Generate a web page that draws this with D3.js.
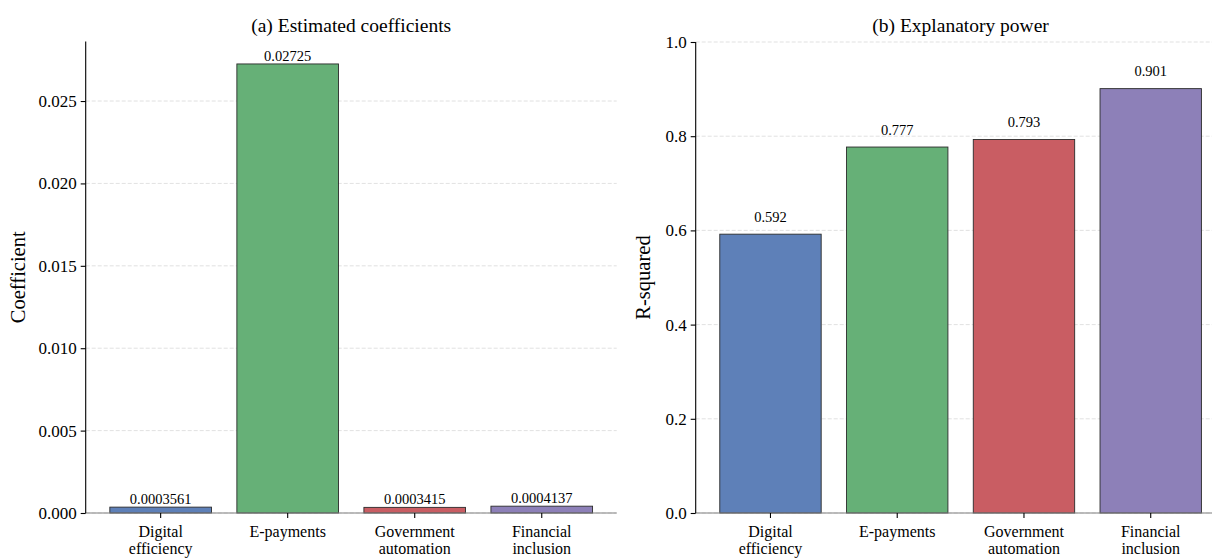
<!DOCTYPE html>
<html>
<head>
<meta charset="utf-8">
<script src="https://cdn.jsdelivr.net/npm/d3@7"></script>
<style>
  html, body { margin: 0; padding: 0; background: #fff; }
  svg { display: block; }
  text { font-family: "Liberation Serif", "DejaVu Serif", serif; fill: #000; }
</style>
</head>
<body>
<svg id="chart" width="1212" height="558"></svg>
<script>
// Regression results by channel
const categories = ["Digital\nefficiency", "E-payments", "Government\nautomation", "Financial\ninclusion"];
const coefficients = [0.0003561, 0.02725, 0.0003415, 0.0004137];
const coefLabels = ["0.0003561", "0.02725", "0.0003415", "0.0004137"];
const rSquared = [0.592, 0.777, 0.793, 0.901];
const rSquaredLabels = ["0.592", "0.777", "0.793", "0.901"];
const coefTicks = [0, 0.005, 0.010, 0.015, 0.020, 0.025];
const r2Ticks = [0, 0.2, 0.4, 0.6, 0.8, 1.0];
const barColors = ["#5e80b8", "#66b077", "#c95d63", "#8d80b8"];

const svg = d3.select("#chart");

function panel(opts) {
  const { x0, x1, y0, y1, values, labels, ticks, tickFmt, yMax, title, yLabel, yLabelX, labelOffset } = opts;
  const g = svg.append("g");

  // categorical positions 0..n-1 with bar width 0.8 and a 5% side margin
  const n = categories.length;
  const x = d3.scaleLinear().domain([-0.59, n - 1 + 0.59]).range([x0, x1]);
  const y = d3.scaleLinear().domain([0, yMax]).range([y0, y1]);
  const bw = 0.8;

  // horizontal grid
  g.append("g").selectAll("line").data(ticks).join("line")
    .attr("x1", x0).attr("x2", x1)
    .attr("y1", d => y(d)).attr("y2", d => y(d))
    .attr("stroke", "#d9d9d9").attr("stroke-width", 0.8)
    .attr("stroke-dasharray", "4,2");

  // bars
  g.append("g").selectAll("rect").data(values).join("rect")
    .attr("x", (d, i) => x(i - bw / 2))
    .attr("width", (d, i) => x(i + bw / 2) - x(i - bw / 2))
    .attr("y", d => y(d))
    .attr("height", d => y(0) - y(d))
    .attr("fill", (d, i) => barColors[i])
    .attr("stroke", "#2b2b2b").attr("stroke-width", 0.9);

  // value labels
  g.append("g").selectAll("text").data(values).join("text")
    .attr("x", (d, i) => x(i))
    .attr("y", d => y(d + labelOffset) - 3)
    .attr("text-anchor", "middle")
    .style("font-size", "14.5px")
    .text((d, i) => labels[i]);

  // baseline
  g.append("line")
    .attr("x1", x0).attr("x2", x1).attr("y1", y(0)).attr("y2", y(0))
    .attr("stroke", "#808080").attr("stroke-width", 1.2);

  // y axis
  const yAxis = d3.axisLeft(y).tickValues(ticks).tickFormat(tickFmt).tickSize(5).tickPadding(4);
  const ya = g.append("g").attr("transform", `translate(${x0},0)`).call(yAxis);
  ya.select(".domain").attr("stroke", "#000").attr("stroke-width", 1.1)
    .attr("d", `M0,${y0}V${y1}`);
  ya.selectAll(".tick line").attr("stroke", "#000").attr("stroke-width", 1.1);
  ya.selectAll(".tick text").style("font-size", "17px")
    .style("font-family", '"Liberation Serif", serif').attr("fill", "#000");

  // x axis ticks and two-line labels
  const xt = g.append("g");
  categories.forEach((c, i) => {
    xt.append("line")
      .attr("x1", x(i)).attr("x2", x(i)).attr("y1", y0).attr("y2", y0 + 5)
      .attr("stroke", "#000").attr("stroke-width", 1.1);
    const t = xt.append("text").attr("text-anchor", "middle").style("font-size", "16px");
    c.split("\n").forEach((line, k) => {
      t.append("tspan").attr("x", x(i)).attr("y", y0 + 24 + k * 16.5).text(line);
    });
  });

  // title
  g.append("text")
    .attr("x", (x0 + x1) / 2).attr("y", 32)
    .attr("text-anchor", "middle")
    .style("font-size", "19.5px")
    .text(title);

  // y label
  g.append("text")
    .attr("transform", `translate(${yLabelX},${(y0 + y1) / 2}) rotate(-90)`)
    .attr("text-anchor", "middle")
    .style("font-size", "20.5px")
    .text(yLabel);
}

panel({
  x0: 85.7, x1: 616.7, y0: 513, y1: 41.5,
  values: coefficients, labels: coefLabels, ticks: coefTicks,
  tickFmt: d3.format(".3f"), yMax: 0.02725 * 1.05,
  title: "(a) Estimated coefficients", yLabel: "Coefficient", yLabelX: 25,
  labelOffset: 0
});

panel({
  x0: 695.7, x1: 1225.5, y0: 513, y1: 42,
  values: rSquared, labels: rSquaredLabels, ticks: r2Ticks,
  tickFmt: d3.format(".1f"), yMax: 1.0,
  title: "(b) Explanatory power", yLabel: "R-squared", yLabelX: 650,
  labelOffset: 0.02
});
</script>
</body>
</html>
